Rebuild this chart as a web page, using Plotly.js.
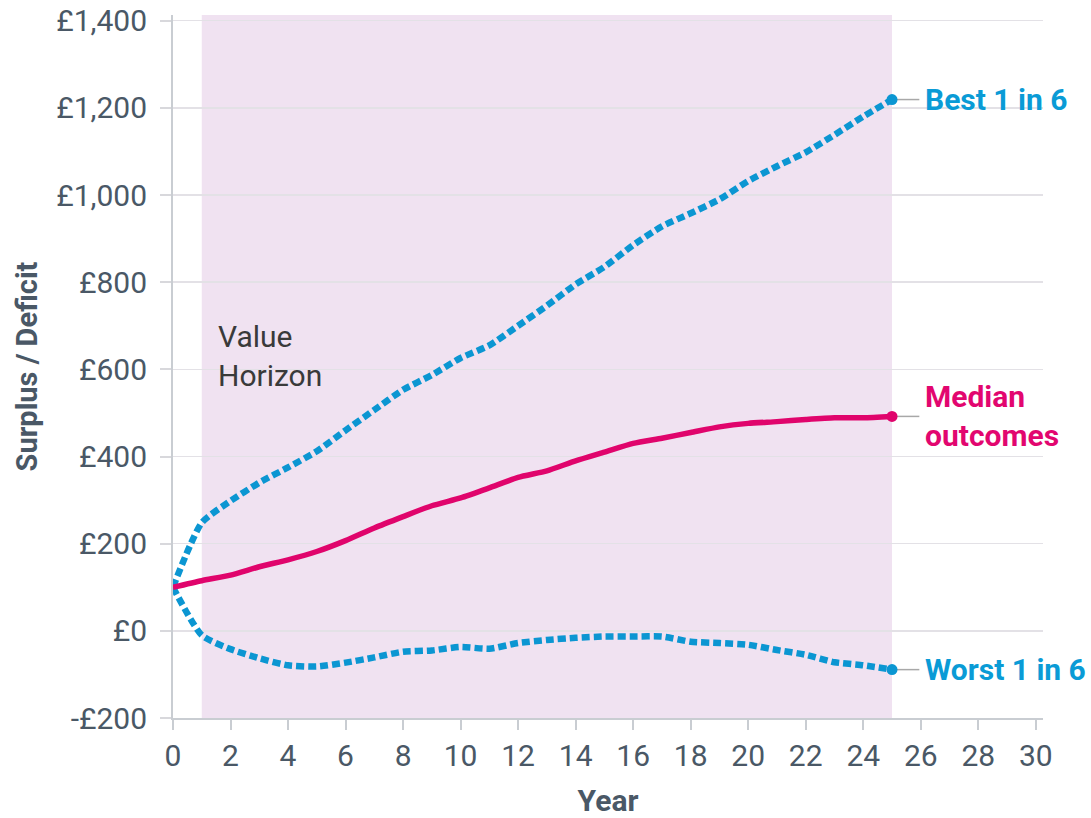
<!DOCTYPE html>
<html>
<head>
<meta charset="utf-8">
<script src="https://cdn.plot.ly/plotly-3.0.1.min.js"></script>
<style>html,body{margin:0;padding:0;background:#fff;}#chart{width:1091px;height:818px;}</style>
</head>
<body>
<div id="chart"></div>
<script>
// ---- data ----
var years = [0,1,2,3,4,5,6,7,8,9,10,11,12,13,14,15,16,17,18,19,20,21,22,23,24,25];
var best1in6 = [100,248,298,340,375,412,460,507,553,587,626,655,700,746,795,835,885,928,958,990,1032,1066,1098,1138,1180,1219];
var median = [100,115,128,147,163,182,207,236,262,287,305,328,352,367,390,410,430,442,455,468,476,480,485,489,489,492];
var worst1in6 = [100,-10,-42,-63,-79,-82,-73,-61,-48,-45,-37,-41,-28,-21,-16,-13,-13,-13,-25,-28,-32,-44,-55,-72,-79,-89];
var valueHorizon = [1, 25];
var yTickVals = [-200,0,200,400,600,800,1000,1200,1400];
var yTickText = ["-£200","£0","£200","£400","£600","£800","£1,000","£1,200","£1,400"];
var seriesLabels = ["Best 1 in 6", "Median<br>outcomes", "Worst 1 in 6"];
var horizonLabel = "Value<br>Horizon";

var BLUE = "#0b96d2";
var PINK = "#e0046c";
var BLUE_TXT = "#0a9bd6";
var PINK_TXT = "#e2066f";
var FONT = "Roboto, 'Noto Sans', sans-serif";
var AXIS_TXT = "#4a5866";

function last(a){ return a[a.length-1]; }
var lastX = last(years);

var traces = [
  {x: years, y: best1in6, mode: "lines", line: {color: BLUE, width: 6.5, dash: "8px,4px", shape: "spline", smoothing: 0.6}, hoverinfo: "skip"},
  {x: years, y: worst1in6, mode: "lines", line: {color: BLUE, width: 6.5, dash: "8px,4px", shape: "spline", smoothing: 0.6}, hoverinfo: "skip"},
  {x: years, y: median, mode: "lines", line: {color: PINK, width: 5.5, shape: "spline", smoothing: 0.6}, hoverinfo: "skip"},
  {x: [lastX, lastX], y: [last(best1in6), last(worst1in6)], mode: "markers", marker: {color: BLUE, size: 11}, hoverinfo: "skip"},
  {x: [lastX], y: [last(median)], mode: "markers", marker: {color: PINK, size: 11}, hoverinfo: "skip"}
];

var connectors = [last(best1in6), last(median), last(worst1in6)].map(function(v){
  return {type: "line", xref: "x", yref: "y", x0: lastX, x1: lastX + 0.95, y0: v, y1: v,
          line: {color: "#a8a8a8", width: 1.5}, layer: "below"};
});

var shapes = [
  {type: "rect", xref: "x", yref: "paper", x0: valueHorizon[0], x1: valueHorizon[1], y0: 0, y1: 1,
   fillcolor: "rgba(205,160,210,0.30)", line: {width: 0}, layer: "below"}
].concat(connectors);

var annotations = [
  {x: valueHorizon[0] + 0.5, y: 631, xref: "x", yref: "y", text: horizonLabel, showarrow: false,
   xanchor: "left", yanchor: "middle", align: "left", font: {family: FONT, size: 30, color: "#3a3a3a"}},
  {x: lastX + 1.07, y: last(best1in6), xref: "x", yref: "y", text: "<b>" + seriesLabels[0] + "</b>", showarrow: false,
   xanchor: "left", yanchor: "middle", font: {family: FONT, size: 30, color: BLUE_TXT}},
  {x: lastX + 1.07, y: last(median), xref: "x", yref: "y", text: "<b>" + seriesLabels[1] + "</b>", showarrow: false,
   xanchor: "left", yanchor: "middle", align: "left", font: {family: FONT, size: 30, color: PINK_TXT}},
  {x: lastX + 1.07, y: last(worst1in6), xref: "x", yref: "y", text: "<b>" + seriesLabels[2] + "</b>", showarrow: false,
   xanchor: "left", yanchor: "middle", font: {family: FONT, size: 30, color: BLUE_TXT}}
];

var layout = {
  width: 1091, height: 818,
  margin: {l: 173, r: 48, t: 15, b: 100, pad: 0},
  paper_bgcolor: "#ffffff", plot_bgcolor: "#ffffff",
  showlegend: false,
  font: {family: FONT, size: 30, color: AXIS_TXT},
  xaxis: {
    range: [0, 30.25], tickmode: "linear", tick0: 0, dtick: 2,
    showgrid: false, zeroline: false, showline: true, linecolor: "#c9cdd2", linewidth: 2,
    ticks: "outside", ticklen: 10, tickwidth: 2, tickcolor: "#c9cdd2",
    tickfont: {family: FONT, size: 30, color: AXIS_TXT},
    title: {text: "<b>Year</b>", font: {family: FONT, size: 30, color: AXIS_TXT}, standoff: 31},
    fixedrange: true
  },
  yaxis: {
    range: [-200, 1413], tickmode: "array", tickvals: yTickVals, ticktext: yTickText,
    showgrid: true, gridcolor: "#e3e1e6", gridwidth: 1.5, zeroline: false,
    showline: true, linecolor: "#c9cdd2", linewidth: 2,
    ticks: "outside", ticklen: 11, tickwidth: 2, tickcolor: "#d8d8dc",
    ticklabelstandoff: 7,
    tickfont: {family: FONT, size: 30, color: AXIS_TXT},
    title: {text: "<b>Surplus / Deficit</b>", font: {family: FONT, size: 29, color: AXIS_TXT}, standoff: 10},
    fixedrange: true
  },
  shapes: shapes,
  annotations: annotations
};

Plotly.newPlot("chart", traces, layout, {displayModeBar: false, staticPlot: true});
</script>
</body>
</html>
